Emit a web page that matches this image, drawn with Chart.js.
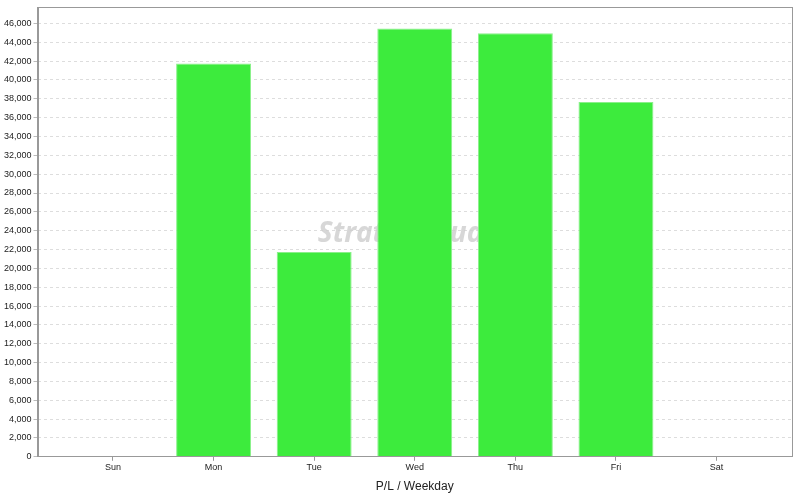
<!DOCTYPE html>
<html>
<head>
<meta charset="utf-8">
<script src="https://cdn.jsdelivr.net/npm/chart.js@4/dist/chart.umd.min.js"></script>
<style>
    body { margin: 0; background: #fff; }
    #wrap { width: 800px; height: 500px; }
</style>
</head>
<body>
<div id="wrap"><canvas id="plChart"></canvas></div>
<script>
const weekdays = ["Sun", "Mon", "Tue", "Wed", "Thu", "Fri", "Sat"];
const profitLoss = [0, 41750, 21750, 45450, 44950, 37650, 0];
const yTickValues = [0, 2000, 4000, 6000, 8000, 10000, 12000, 14000, 16000, 18000, 20000, 22000,
    24000, 26000, 28000, 30000, 32000, 34000, 36000, 38000, 40000, 42000, 44000, 46000];

// faint watermark drawn behind the bars
const watermark = {
    id: "watermark",
    beforeDatasetsDraw(chart) {
        const { ctx, chartArea } = chart;
        ctx.save();
        ctx.font = "italic bold 28px 'Open Sans', sans-serif";
        ctx.fillStyle = "rgba(205,205,205,0.8)";
        ctx.textAlign = "center";
        ctx.textBaseline = "middle";
        ctx.fillText("StrategyQuant", (chartArea.left + chartArea.right) / 2, (chartArea.top + chartArea.bottom) / 2 + 2);
        ctx.restore();
    },
};

function renderChart() {
    const ctx = document.getElementById("plChart").getContext("2d");

    new Chart(ctx, {
        type: "bar",
        data: {
            labels: weekdays,
            datasets: [
                {
                    label: "P/L",
                    data: profitLoss,
                    backgroundColor: "#3deb3d",
                    borderColor: "#8af08a",
                    borderWidth: 1,
                    categoryPercentage: 0.745,
                    barPercentage: 1,
                },
            ],
        },
        options: {
            responsive: false,
            animation: false,
            layout: { padding: { top: 6, right: 8, left: 2, bottom: 6 } },
            scales: {
                x: {
                    offset: false,
                    // wider margins at both ends than the default half category
                    afterBuildTicks: (axis) => {
                        axis._startValue = -0.75;
                        axis._valueRange = weekdays.length - 1 + 1.5;
                    },
                    border: { display: true, color: "#999" },
                    grid: {
                        display: true,
                        offset: false,
                        drawOnChartArea: false,
                        drawTicks: true,
                        tickLength: 4,
                        color: "#999",
                    },
                    ticks: {
                        color: "#222",
                        font: { family: "'Liberation Sans', Arial", size: 9 },
                        padding: 1,
                    },
                    title: {
                        display: true,
                        text: "P/L / Weekday",
                        color: "#222",
                        font: { family: "'Liberation Sans', Arial", size: 12 },
                        padding: { top: 6, bottom: 0 },
                    },
                },
                y: {
                    min: 0,
                    max: 47700,
                    afterBuildTicks: (axis) => {
                        axis.ticks = yTickValues.map((v) => ({ value: v }));
                    },
                    grid: {
                        color: "#ddd",
                        tickLength: 4,
                        drawTicks: true,
                        tickColor: "#bbb",
                    },
                    border: { display: true, color: "#999", dash: [3, 3] },
                    ticks: {
                        color: "#222",
                        padding: 2,
                        font: { family: "'Liberation Sans', Arial", size: 9 },
                        callback: (v) => v.toLocaleString("en-US"),
                    },
                },
            },
            plugins: {
                legend: { display: false },
                tooltip: { enabled: false },
            },
        },
        plugins: [
            watermark,
            {
                id: "frame",
                afterDraw(chart) {
                    const { ctx, chartArea: a } = chart;
                    ctx.save();
                    ctx.strokeStyle = "#999";
                    ctx.lineWidth = 1;
                    ctx.strokeRect(Math.round(a.left) + 0.5, Math.round(a.top) + 0.5, Math.round(a.right - a.left), Math.round(a.bottom - a.top));
                    ctx.restore();
                },
            },
        ],
    });
}

const canvas = document.getElementById("plChart");
canvas.width = 800;
canvas.height = 500;
renderChart();
</script>
</body>
</html>
